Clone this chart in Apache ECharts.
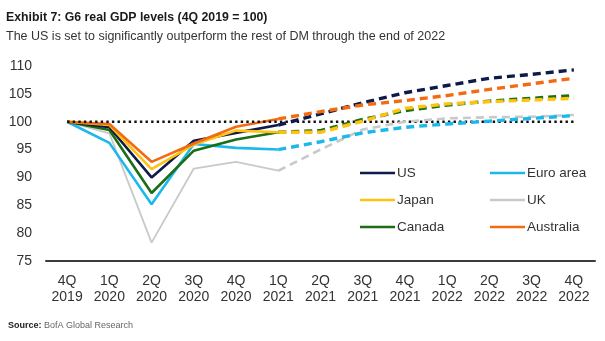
<!DOCTYPE html>
<html>
<head>
<meta charset="utf-8">
<script src="https://cdn.jsdelivr.net/npm/echarts@6/dist/echarts.min.js"></script>
<style>
  html, body { margin: 0; padding: 0; background: #ffffff; }
  #chart { width: 605px; height: 341px; }
</style>
</head>
<body>
<div id="chart"></div>
<script>
// Quarters on the x axis
const categories = ['4Q 2019', '1Q 2020', '2Q 2020', '3Q 2020', '4Q 2020', '1Q 2021',
  '2Q 2021', '3Q 2021', '4Q 2021', '1Q 2022', '2Q 2022', '3Q 2022', '4Q 2022'];

// Real GDP levels, 4Q 2019 = 100 (actuals through 1Q 2021, forecasts after)
const usLevels        = [100, 99.0, 90.0, 96.6, 98.0, 99.4, 101.4, 103.4, 105.2, 106.5, 107.8, 108.5, 109.3];
const euroAreaLevels  = [100, 96.2, 85.2, 96.0, 95.3, 95.0, 96.4, 98.0, 99.0, 99.6, 100.1, 100.6, 101.1];
const japanLevels     = [100, 99.4, 91.5, 95.9, 98.4, 98.1, 98.1, 100.1, 102.4, 103.2, 103.6, 103.9, 104.2];
const ukLevels        = [100, 97.9, 78.3, 91.6, 92.8, 91.2, 95.0, 98.6, 100.0, 100.6, 100.8, 100.9, 101.2];
const canadaLevels    = [100, 98.5, 87.2, 94.8, 96.8, 98.1, 98.4, 100.4, 102.0, 103.0, 103.7, 104.2, 104.7];
const australiaLevels = [100, 99.6, 92.8, 96.1, 99.1, 100.5, 101.8, 103.0, 103.8, 104.7, 105.8, 106.8, 107.8];

// Reference level
const baseLevel = [100, 100, 100, 100, 100, 100, 100, 100, 100, 100, 100, 100, 100];

// Index of the last actual quarter (1Q 2021)
const lastActual = 5;

// Y axis ticks
const yMin = 75, yMax = 110, yStep = 5;

const FONT = '"Liberation Sans", Arial, sans-serif';

const countries = [
  { name: 'UK',        data: ukLevels,        color: '#c9c9c9', w: 1.8, dw: 2.6 },
  { name: 'Euro area', data: euroAreaLevels,  color: '#1cb8ec', w: 2.6, dw: 3.4 },
  { name: 'Canada',    data: canadaLevels,    color: '#1b6e14', w: 2.6, dw: 3.4 },
  { name: 'US',        data: usLevels,        color: '#0d1a4a', w: 2.6, dw: 3.4 },
  { name: 'Japan',     data: japanLevels,     color: '#ffc20e', w: 2.6, dw: 3.4 },
  { name: 'Australia', data: australiaLevels, color: '#f26b12', w: 2.6, dw: 3.4 }
];

const solidSeries = countries.map(c => ({
  name: c.name,
  type: 'line',
  data: c.data.map((v, i) => (i <= lastActual ? v : null)),
  showSymbol: false,
  symbol: 'none',
  color: c.color,
  lineStyle: { color: c.color, width: c.w },
  z: 2
}));

const forecastSeries = countries.map(c => ({
  name: c.name + ' (forecast)',
  type: 'line',
  data: c.data.map((v, i) => (i >= lastActual ? v : null)),
  showSymbol: false,
  symbol: 'none',
  color: c.color,
  lineStyle: { color: c.color, width: c.dw, type: [8, 5] },
  z: 4
}));

const baseSeries = {
  name: 'base',
  type: 'line',
  data: baseLevel,
  showSymbol: false,
  symbol: 'none',
  silent: true,
  lineStyle: { color: '#111111', width: 2.6, type: [2.4, 3.2] },
  z: 3
};

const legendCommon = {
  orient: 'vertical',
  icon: 'rect',
  padding: 0,
  itemWidth: 35,
  itemHeight: 2.6,
  itemGap: 9,
  textStyle: { fontFamily: FONT, fontSize: 13.5, color: '#333333', lineHeight: 18, padding: [0, 0, 0, -3] }
};

const chart = echarts.init(document.getElementById('chart'), null, { renderer: 'canvas' });

chart.setOption({
  animation: false,
  backgroundColor: '#ffffff',
  title: [
    {
      text: 'Exhibit 7: G6 real GDP levels (4Q 2019 = 100)',
      left: 6, top: 12, padding: 0,
      textStyle: { fontFamily: FONT, fontSize: 12.3, fontWeight: 'bold', color: '#1a1a1a' }
    },
    {
      text: 'The US is set to significantly outperform the rest of DM through the end of 2022',
      left: 6, top: 30, padding: 0,
      textStyle: { fontFamily: FONT, fontSize: 12.5, fontWeight: 'normal', color: '#333333' }
    },
    {
      text: '{b|Source:} BofA Global Research',
      left: 8, top: 321, padding: 0,
      textStyle: {
        fontFamily: FONT, fontSize: 9, fontWeight: 'normal', color: '#666666',
        rich: { b: { fontFamily: FONT, fontSize: 9, fontWeight: 'bold', color: '#222222' } }
      }
    }
  ],
  legend: [
    Object.assign({ left: 360, top: 164, data: ['US', 'Japan', 'Canada'] }, legendCommon),
    Object.assign({ left: 490, top: 164, data: ['Euro area', 'UK', 'Australia'] }, legendCommon)
  ],
  grid: { left: 46, right: 10, top: 66, bottom: 80, containLabel: false },
  xAxis: {
    type: 'category',
    data: categories,
    boundaryGap: true,
    axisTick: { show: false },
    axisLine: { lineStyle: { color: '#3c3c3c', width: 2 } },
    axisLabel: {
      interval: 0,
      margin: 12,
      fontFamily: FONT, fontSize: 14, color: '#333333', lineHeight: 16,
      formatter: v => v.replace(' ', '\n')
    }
  },
  yAxis: {
    type: 'value',
    min: yMin, max: yMax, interval: yStep,
    axisLine: { show: false },
    axisTick: { show: false },
    splitLine: { show: false },
    axisLabel: { margin: 14, fontFamily: FONT, fontSize: 14, color: '#333333' }
  },
  series: [...solidSeries, baseSeries, ...forecastSeries]
});
</script>
</body>
</html>
